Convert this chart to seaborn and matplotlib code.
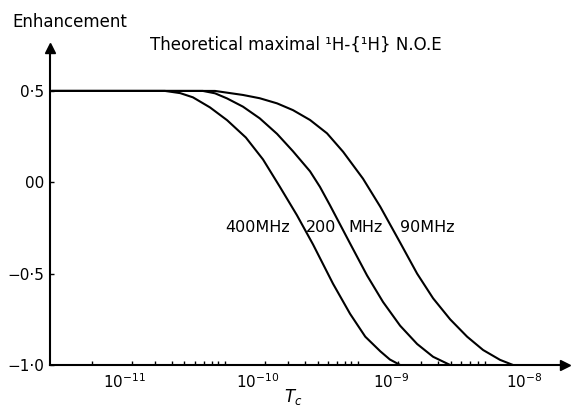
import matplotlib
matplotlib.use("Agg")
import matplotlib.pyplot as plt
from matplotlib.ticker import NullFormatter
import seaborn as sns
import pandas as pd

# correlation time (s) and enhancement
tau_400 = [2.8e-12, 2.0e-11, 2.6e-11, 3.24e-11, 4.35e-11, 5.85e-11, 8.1e-11, 1.09e-10, 1.46e-10,
           1.96e-10, 2.59e-10, 3.66e-10, 4.92e-10, 6.4e-10, 8.3e-10, 9.8e-10, 1.17e-9]
noe_400 = [0.5, 0.5, 0.488, 0.465, 0.41, 0.34, 0.245, 0.125, -0.025,
           -0.18, -0.34, -0.555, -0.72, -0.845, -0.925, -0.97, -1.0]

tau_200 = [2.8e-12, 3.85e-11, 4.75e-11, 5.85e-11, 7.7e-11, 1.03e-10, 1.39e-10, 1.83e-10,
           2.46e-10, 2.92e-10, 3.47e-10, 4.92e-10, 6.6e-10, 8.7e-10, 1.17e-9, 1.57e-9,
           2.07e-9, 2.78e-9]
noe_200 = [0.5, 0.5, 0.487, 0.459, 0.414, 0.350, 0.265, 0.17,
           0.06, -0.025, -0.125, -0.335, -0.51, -0.655, -0.785, -0.885,
           -0.955, -1.0]

tau_90 = [2.8e-12, 4.75e-11, 7.7e-11, 1.03e-10, 1.39e-10, 1.83e-10, 2.46e-10, 3.3e-10,
          4.36e-10, 6.15e-10, 8.3e-10, 1.17e-9, 1.57e-9, 2.07e-9, 2.78e-9, 3.73e-9,
          4.92e-9, 6.6e-9, 8.26e-9]
noe_90 = [0.5, 0.5, 0.478, 0.46, 0.432, 0.395, 0.341, 0.268,
          0.167, 0.02, -0.134, -0.33, -0.5, -0.635, -0.75, -0.845,
          -0.918, -0.972, -1.0]

decades = [1e-11, 1e-10, 1e-9, 1e-8]
decade_labels = ["$10^{-11}$", "$10^{-10}$", "$10^{-9}$", "$10^{-8}$"]
y_ticks = [0.5, 0.0, -0.5, -1.0]
y_labels = ["0·5", "00", "−0·5", "−1·0"]

df = pd.concat([
    pd.DataFrame({"tau": tau_400, "noe": noe_400, "field": "400MHz"}),
    pd.DataFrame({"tau": tau_200, "noe": noe_200, "field": "200 MHz"}),
    pd.DataFrame({"tau": tau_90, "noe": noe_90, "field": "90MHz"}),
])

sns.set_style("white")
plt.rcParams["font.family"] = ["DejaVu Sans"]
plt.rcParams["text.color"] = "black"
plt.rcParams["xtick.color"] = "black"
plt.rcParams["ytick.color"] = "black"

fig = plt.figure(figsize=(5.79, 4.07), dpi=100)
ax = fig.add_axes([50 / 579, 42 / 407, 515 / 579, 317 / 407])
ax.set_xscale("log")

for name, part in df.groupby("field", sort=False):
    sns.lineplot(data=part, x="tau", y="noe", ax=ax, color="black",
                 linewidth=1.5, estimator=None, sort=True, legend=False)

ax.set_xlim(2.73e-12, 2.03e-8)
ax.set_ylim(-1.0, 0.735)
ax.set_xlabel("")
ax.set_ylabel("")

# decade labels without marks; the small ticks sit a bit left of each label as in the original
ax.set_xticks(decades)
ax.set_xticklabels(decade_labels, fontsize=11)
minor = [0.56 * k * d for d in decades[:3] for k in range(1, 10)]
ax.set_xticks(minor, minor=True)
ax.xaxis.set_minor_formatter(NullFormatter())
ax.tick_params(axis="x", which="major", length=0, pad=5)
ax.tick_params(axis="x", which="minor", direction="in", length=3, width=1, bottom=True)

ax.set_yticks(y_ticks)
ax.set_yticklabels(y_labels, fontsize=11)
ax.tick_params(axis="y", direction="in", length=3, width=1, left=True, pad=4)

for s in ["top", "right"]:
    ax.spines[s].set_visible(False)
for s in ["left", "bottom"]:
    ax.spines[s].set_linewidth(1.5)
    ax.spines[s].set_color("black")

# arrow heads on the axes
ax.plot(1.0, 0.0, ">", color="black", markersize=7, transform=ax.transAxes, clip_on=False)
ax.plot(0.0, 1.0, "^", color="black", markersize=7, transform=ax.transAxes, clip_on=False)

fig.text(12 / 579, 1 - 22 / 407, "Enhancement", fontsize=12, va="center", ha="left")
fig.text(150 / 579, 1 - 45 / 407, "Theoretical maximal ¹H-{¹H} N.O.E", fontsize=12,
         va="center", ha="left")
fig.text(293 / 579, 1 - 397 / 407, "$T_c$", fontsize=12, va="center", ha="center")

ax.text(1.74e-10, -0.245, "400MHz", fontsize=11.5, ha="right", va="center")
ax.text(2.98e-10, -0.245, "200", fontsize=11.5, ha="center", va="center")
ax.text(6.4e-10, -0.245, "MHz", fontsize=11.5, ha="center", va="center")
ax.text(1.86e-9, -0.245, "90MHz", fontsize=11.5, ha="center", va="center")

fig.savefig("out.png", dpi=100)
